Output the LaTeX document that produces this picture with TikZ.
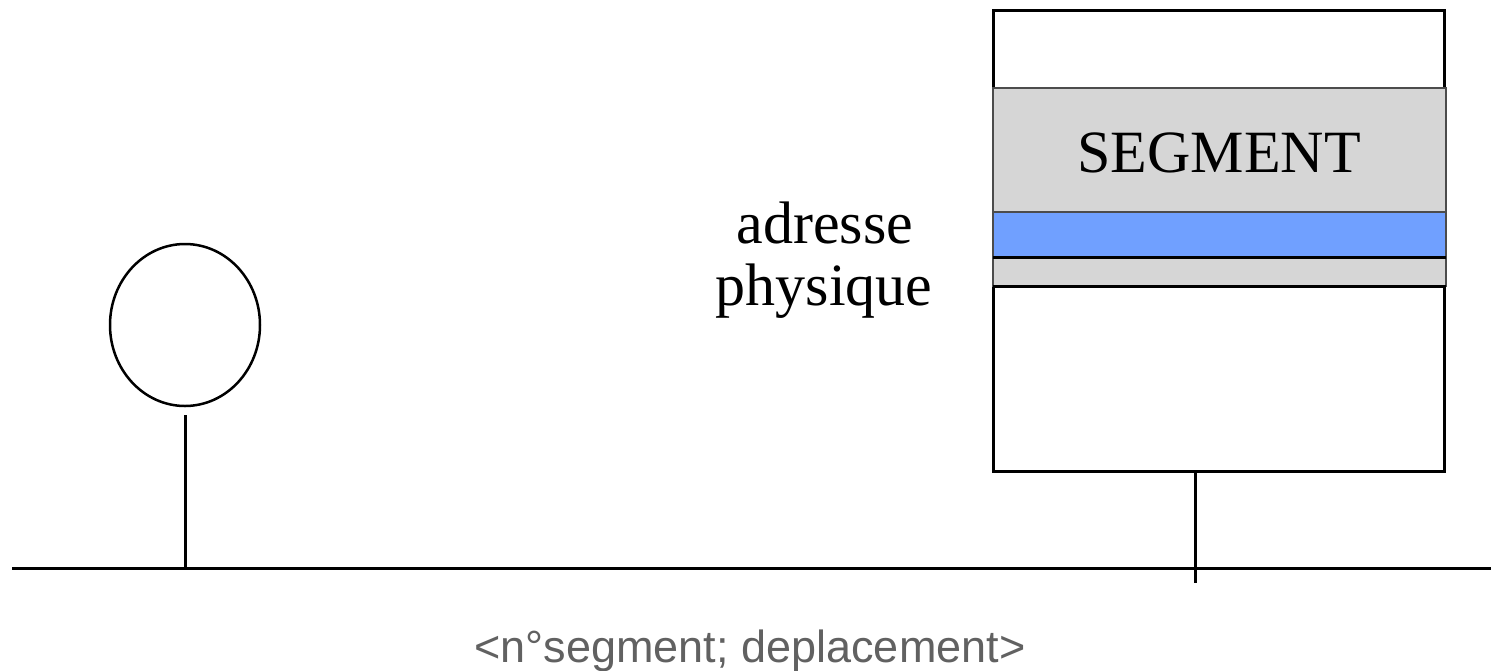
\documentclass[tikz,border=0pt]{standalone}
\usepackage{fontspec}
\usetikzlibrary{shapes.geometric}
\setmainfont{Liberation Serif}
\newfontfamily\labelsans{Liberation Sans}
\definecolor{segGray}{HTML}{D6D6D6}
\definecolor{segBlue}{HTML}{70A0FF}
\definecolor{txtGray}{HTML}{616161}
\begin{document}
\begin{tikzpicture}[x=1pt,y=-1pt,
  line/.style={line width=3pt, black},
  band/.style={draw=black!70, line width=2pt, inner sep=0pt, outer sep=0pt},
  serif/.style={font=\fontsize{60}{62}\selectfont, inner sep=0pt}]
\useasboundingbox (0,0) rectangle (1491,670);
% memory box
\node[draw, line width=3pt, inner sep=0pt, outer sep=0pt, minimum width=451pt, minimum height=461pt] (mem) at (1218.5,240.5) {};
\node[band, fill=segGray, minimum width=453pt, minimum height=198pt] (seg) at (1219.5,187) {};
\node[band, fill=segBlue, minimum width=453pt, minimum height=45pt] (adr) at (1219.5,234.5) {};
\draw[line] (seg.south west) -- (seg.south east);
\draw[line] (adr.south west) -- (adr.south east);
\node[serif, anchor=base] (segtxt) at (1219,172) {SEGMENT};
% label
\node[serif, anchor=base] (l1) at (825,243) {adresse};
\node[serif, anchor=base] (l2) at (824,305) {physique};
% processor
\node[draw, ellipse, line width=2.5pt, minimum width=150pt, minimum height=162pt, inner sep=0pt] (cpu) at (185,325) {};
% bus
\coordinate (busL) at (12,568);
\coordinate (busR) at (1491,568);
\coordinate (cpuBus) at (185,568);
\coordinate (memBus) at (1195,583);
\coordinate (memTop) at (1195,471);
\draw[line] (busL) -- (busR);
\draw[line] ([yshift=-8pt]cpu.south) -- (cpuBus);
\draw[line] (memTop) -- (memBus);
% address text
\node[font=\labelsans\fontsize{45}{50}\selectfont, text=txtGray, anchor=base, inner sep=0pt] (addr) at (750,662) {<n°segment; deplacement>};
\end{tikzpicture}
\end{document}
